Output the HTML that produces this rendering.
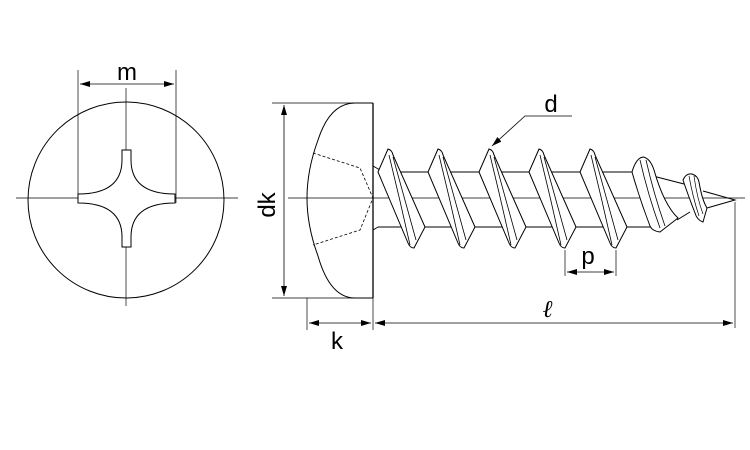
<!DOCTYPE html>
<html><head><style>html,body{margin:0;padding:0;background:#fff;}svg{display:block;}</style></head>
<body>
<svg width="750" height="450" viewBox="0 0 750 450" xmlns="http://www.w3.org/2000/svg">
<defs>
<marker id="a" viewBox="0 0 10 6" refX="10" refY="3" markerWidth="10" markerHeight="6" orient="auto-start-reverse" markerUnits="userSpaceOnUse"><path d="M0,0 L10,3 L0,6 Z" fill="#000"/></marker>
</defs>
<g fill="none" stroke="#000" stroke-width="1">
<circle cx="126" cy="200" r="98"/>
<line x1="16" y1="198" x2="238" y2="198" stroke-width="0.7"/>
<line x1="126" y1="88" x2="126" y2="306" stroke-width="0.7"/>
<line x1="78" y1="70" x2="78" y2="203" stroke-width="0.7"/>
<line x1="176" y1="70" x2="176" y2="203" stroke-width="0.7"/>
<line x1="80" y1="84" x2="174" y2="84" stroke-width="0.8" marker-start="url(#a)" marker-end="url(#a)"/>
<path d="M122,150 L131,150 L131,160 Q131,194 175,194 L175,203 Q131,203 131,237 L131,247 L122,247 L122,237 Q122,203 78,203 L78,194 Q122,194 122,160 Z" fill="#fff"/>

<line x1="272" y1="103" x2="373" y2="103" stroke-width="0.7"/>
<line x1="272" y1="298" x2="373" y2="298" stroke-width="0.7"/>
<line x1="284" y1="105" x2="284" y2="296" stroke-width="0.8" marker-start="url(#a)" marker-end="url(#a)"/>
<path d="M373,103 L355,103 Q330,103 318,140 Q307,170 307,198 Q307,226 318,256 Q330,298 355,298 L373,298"/>
<line x1="373" y1="103" x2="373" y2="298" stroke-width="1.3"/>
<path d="M313,153 L360,168 L373,198 L360,230 L313,245" stroke-dasharray="3,2" stroke-width="0.8"/>
<line x1="288" y1="198" x2="745" y2="198" stroke-width="0.7"/>

<line x1="378" y1="172" x2="633" y2="172"/>
<line x1="378" y1="227" x2="655" y2="227"/>
<path d="M373,166 L380,170 M373,230 L378,227"/>

<g fill="#fff">
<path d="M378,172 L388,149 Q392,150 393,155 L425,227 L414,248 Q410,248 408,243 Z"/>
<path d="M428,172 L438,149 Q442,150 443,155 L475,227 L464,248 Q460,248 458,243 Z"/>
<path d="M479,172 L489,149 Q493,150 494,155 L526,227 L515,248 Q511,248 509,243 Z"/>
<path d="M529,172 L539,149 Q543,150 544,155 L576,227 L565,248 Q561,248 559,243 Z"/>
<path d="M580,172 L590,149 Q594,150 595,155 L627,227 L616,248 Q612,248 610,243 Z"/>
</g>
<g stroke-width="0.8">
<path d="M389,155 Q400,200 410,245 M393,157 Q405,200 416,240"/>
<path d="M439,155 Q450,200 460,245 M443,157 Q455,200 466,240"/>
<path d="M490,155 Q501,200 511,245 M494,157 Q506,200 517,240"/>
<path d="M540,155 Q551,200 561,245 M544,157 Q556,200 567,240"/>
<path d="M591,155 Q602,200 612,245 M595,157 Q607,200 618,240"/>
</g>
<path d="M653,176 L684,184 M703,191 L735,200 L707,208 M677,220 L690,212" />
<path d="M632,172 Q636,158 643,157 Q650,158 654,170 Q664,205 678,218 L660,232 Q652,231 650,226 Q640,200 632,172 Z" fill="#fff"/>
<path d="M640,160 Q648,195 660,228 M646,160 Q654,195 665,226" stroke-width="0.8"/>
<path d="M683,180 Q686,173 692,174 Q698,176 699,182 Q702,200 707,208 L703,222 Q697,220 695,213 Q688,195 683,180 Z" fill="#fff"/>
<path d="M689,176 Q693,198 699,216 M694,176 Q697,198 703,214" stroke-width="0.7"/>

<path d="M572,116 L525,116 L492,146" stroke-width="0.8" marker-end="url(#a)"/>

<line x1="565" y1="250" x2="565" y2="276" stroke-width="0.7"/>
<line x1="616" y1="250" x2="616" y2="276" stroke-width="0.7"/>
<line x1="567" y1="272" x2="614" y2="272" stroke-width="0.8" marker-start="url(#a)" marker-end="url(#a)"/>

<line x1="307" y1="298" x2="307" y2="330" stroke-width="0.7"/>
<line x1="373" y1="298" x2="373" y2="330" stroke-width="0.7"/>
<line x1="735" y1="202" x2="735" y2="328" stroke-width="0.7"/>
<line x1="309" y1="323" x2="371" y2="323" stroke-width="0.8" marker-start="url(#a)" marker-end="url(#a)"/>
<line x1="375" y1="323" x2="733" y2="323" stroke-width="0.8" marker-start="url(#a)" marker-end="url(#a)"/>
</g>
<g font-family="Liberation Sans, sans-serif" font-size="24" fill="#000" text-anchor="middle">
<text x="127" y="80">m</text>
<text x="551" y="112">d</text>
<text x="588" y="264">p</text>
<text x="337" y="349">k</text>
<text x="548" y="317" font-style="italic" font-weight="bold" font-family="Liberation Serif, serif">ℓ</text>
<text transform="translate(275,205) rotate(-90)">dk</text>
</g>
</svg>
</body></html>
